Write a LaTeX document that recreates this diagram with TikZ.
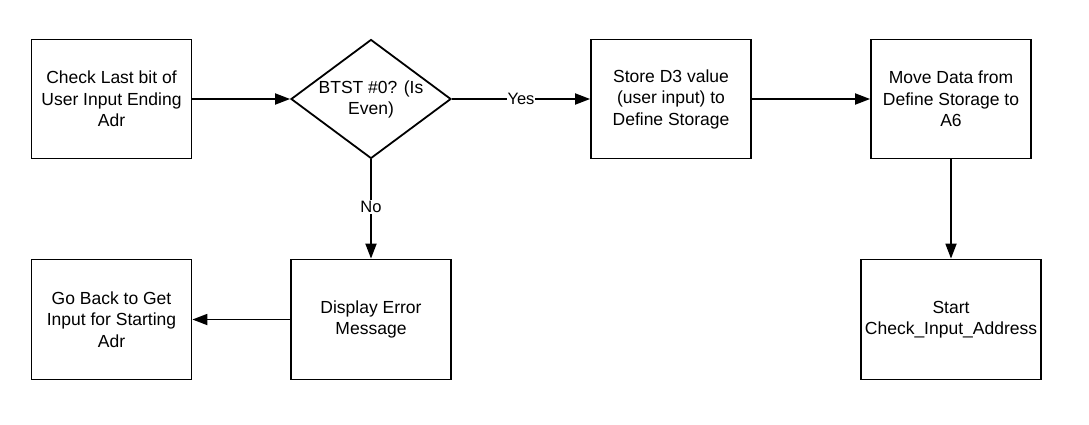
\documentclass[tikz,border=0pt]{standalone}
\usepackage{fontspec}
\setmainfont{Liberation Sans}
\usetikzlibrary{shapes.geometric,arrows.meta}
\begin{document}
\begin{tikzpicture}[x=1pt,y=-1pt,
  every node/.style={font=\fontsize{17.5pt}{21.5pt}\selectfont},
  procbox/.style={draw,line width=1.8pt,minimum width=160pt,minimum height=119pt,align=center,inner sep=0pt},
  decbox/.style={draw,line width=1.8pt,diamond,minimum width=160pt,minimum height=119pt,aspect=1.345,inner sep=0pt},
  conn/.style={line width=1.8pt,-{Triangle[length=15pt,width=11pt]}},
  lbl/.style={fill=white,inner sep=1pt,font=\fontsize{16.5pt}{20pt}\selectfont}
]
\useasboundingbox (0,0) rectangle (1089,424);
\node[procbox] (check) at (111.5,99) {Check Last bit of\\User Input Ending\\Adr};
\node[decbox] (btst) at (371,99) {};
\node[align=center] (btsttext) at (371,99.5) {BTST \#0? (Is\\Even)};
\node[procbox] (store) at (671,99) {Store D3 value\\(user input) to\\Define Storage};
\node[procbox] (move) at (951,99) {Move Data from\\Define Storage to\\A6};
\node[procbox,minimum width=180pt,minimum height=120pt] (start) at (951,319.5) {Start\\Check\_Input\_Address};
\node[procbox,minimum height=120pt] (error) at (371,319.5) {Display Error\\Message};
\node[procbox,minimum height=120pt] (back) at (111.5,319.5) {Go Back to Get\\Input for Starting\\Adr};
\draw[conn] (check.east) -- (btst.west);
\draw[conn] (btst.east) -- node[lbl] (yes) {Yes} (store.west);
\draw[conn] (store.east) -- (move.west);
\draw[conn] (move.south) -- (start.north);
\draw[conn] (btst.south) -- node[lbl,pos=0.48] (no) {No} (error.north);
\draw[conn] (error.west) -- (back.east);
\end{tikzpicture}
\end{document}
